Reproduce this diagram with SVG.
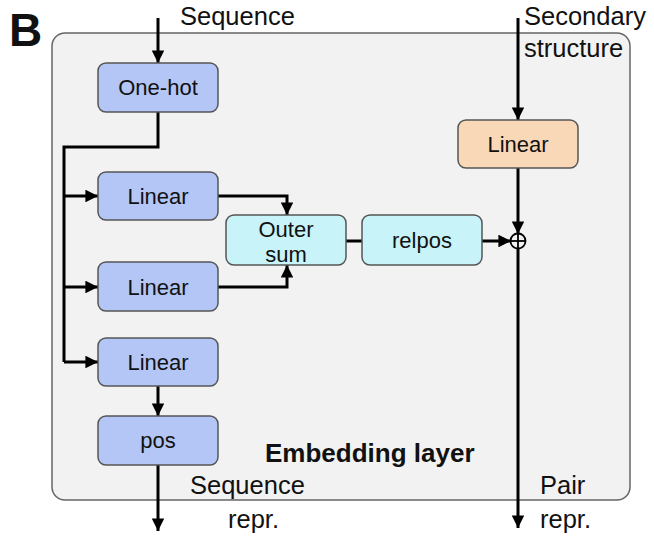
<svg xmlns="http://www.w3.org/2000/svg" width="654" height="540" viewBox="0 0 654 540">
<defs>
<marker id="ah" viewBox="0 0 10 10" refX="10" refY="5" markerWidth="4.2" markerHeight="4.2" orient="auto" markerUnits="strokeWidth">
<path d="M0,0 L10,5 L0,10 z" fill="#000"/>
</marker>
<style>
text{font-family:"Liberation Sans",Arial,sans-serif;fill:#111}
.lbl{font-size:25.5px}
.bt{font-size:22px;text-anchor:middle}
.box{stroke:#555;stroke-width:1.5}
.blue{fill:#b4c6f6}
.cyan{fill:#c8f3f9}
.orange{fill:#f9d8b8}
.c{fill:none;stroke:#000;stroke-width:3}
</style>
</defs>
<rect x="52" y="33" width="578" height="467" rx="13" fill="#f2f2f2" stroke="#666" stroke-width="1.5"/>
<text x="9" y="46" style="font-size:46px;font-weight:bold">B</text>
<text class="lbl" x="180" y="25">Sequence</text>
<text class="lbl" x="524" y="25">Secondary</text>
<text class="lbl" x="524" y="57">structure</text>
<text x="265" y="462" style="font-size:26px;font-weight:bold">Embedding layer</text>
<text class="lbl" x="190" y="494">Sequence</text>
<text class="lbl" x="228" y="528">repr.</text>
<text class="lbl" x="540" y="494">Pair</text>
<text class="lbl" x="540" y="528">repr.</text>
<g id="connectors">
<line class="c" x1="158" y1="18" x2="158" y2="63" marker-end="url(#ah)"/>
<polyline class="c" points="158,112 158,147 64,147 64,362"/>
<line class="c" x1="64" y1="196" x2="98" y2="196" marker-end="url(#ah)"/>
<line class="c" x1="64" y1="287" x2="98" y2="287" marker-end="url(#ah)"/>
<line class="c" x1="64" y1="362" x2="98" y2="362" marker-end="url(#ah)"/>
<polyline class="c" points="218,196 287,196 287,215" marker-end="url(#ah)"/>
<polyline class="c" points="218,287 287,287 287,265" marker-end="url(#ah)"/>
<line class="c" x1="346" y1="241" x2="362" y2="241"/>
<line class="c" x1="482" y1="241" x2="511" y2="241" marker-end="url(#ah)"/>
<line class="c" x1="518" y1="18" x2="518" y2="120" marker-end="url(#ah)"/>
<line class="c" x1="518" y1="168" x2="518" y2="234" marker-end="url(#ah)"/>
<line class="c" x1="518" y1="248" x2="518" y2="528" marker-end="url(#ah)"/>
<line class="c" x1="158" y1="386" x2="158" y2="416" marker-end="url(#ah)"/>
<line class="c" x1="158" y1="465" x2="158" y2="531" marker-end="url(#ah)"/>
</g>
<g id="plus">
<circle cx="518" cy="241" r="7.5" fill="none" stroke="#000" stroke-width="1.8"/>
<line x1="510.5" y1="241" x2="525.5" y2="241" stroke="#000" stroke-width="1.8"/>
<line x1="518" y1="233.5" x2="518" y2="248.5" stroke="#000" stroke-width="1.8"/>
</g>
<g id="onehot"><rect class="box blue" x="98" y="63" width="120" height="49" rx="8"/><text class="bt" x="158" y="95">One-hot</text></g>
<g id="linear1"><rect class="box blue" x="98" y="172" width="120" height="48" rx="8"/><text class="bt" x="158" y="204">Linear</text></g>
<g id="linear2"><rect class="box blue" x="98" y="262" width="120" height="49" rx="8"/><text class="bt" x="158" y="295">Linear</text></g>
<g id="linear3"><rect class="box blue" x="98" y="338" width="120" height="48" rx="8"/><text class="bt" x="158" y="370">Linear</text></g>
<g id="pos"><rect class="box blue" x="98" y="416" width="120" height="49" rx="8"/><text class="bt" x="158" y="448">pos</text></g>
<g id="outersum"><rect class="box cyan" x="226" y="215" width="120" height="50" rx="8"/><text class="bt" x="286" y="237">Outer</text><text class="bt" x="286" y="262">sum</text></g>
<g id="relpos"><rect class="box cyan" x="362" y="215" width="120" height="50" rx="8"/><text class="bt" x="422" y="248">relpos</text></g>
<g id="linear-ss"><rect class="box orange" x="458" y="120" width="120" height="48" rx="8"/><text class="bt" x="518" y="152">Linear</text></g>
</svg>
